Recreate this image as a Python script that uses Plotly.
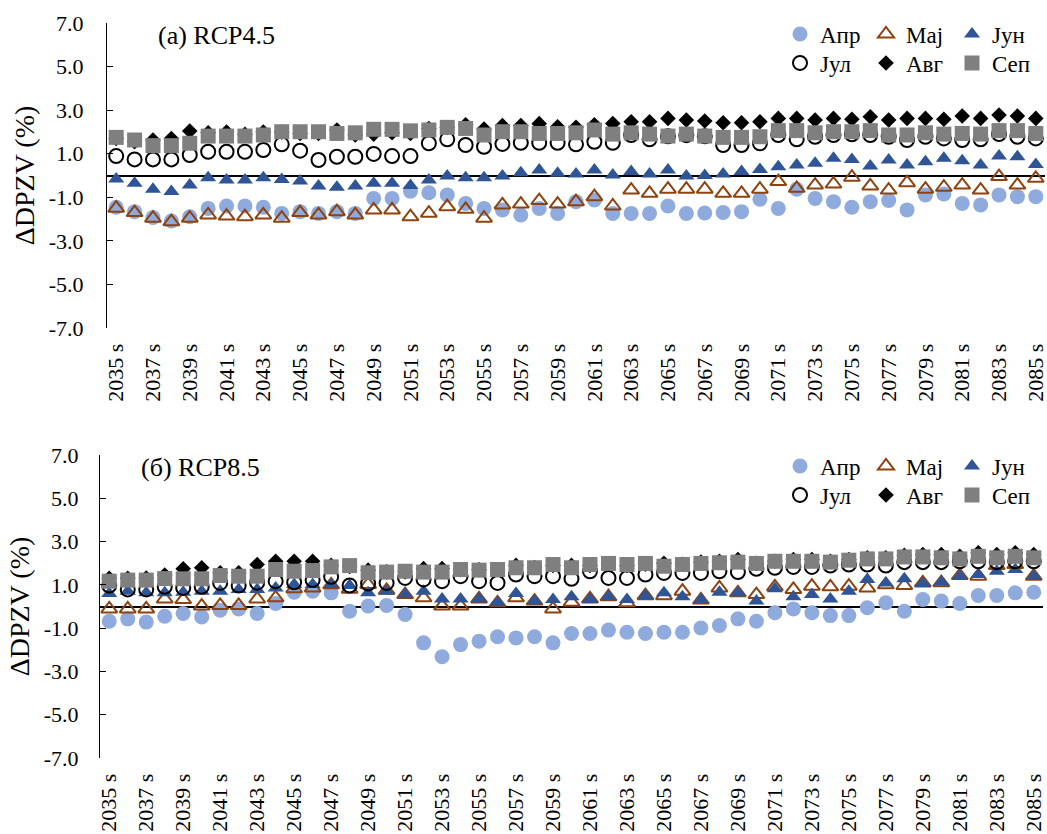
import plotly.graph_objects as go

# ---------------- data ----------------
categories = [f"{y} s" for y in range(2035, 2086)]
tick_labels = categories[::2]
series_names = ["Апр", "Мај", "Јун", "Јул", "Авг", "Сеп"]

# (a) RCP4.5
a_apr = [-1.46, -1.66, -1.93, -2.09, -1.89, -1.51, -1.40, -1.40, -1.46, -1.74, -1.66, -1.74, -1.66,
         -1.74, -1.05, -1.05, -0.72, -0.79, -0.89, -1.28, -1.51, -1.58, -1.81, -1.51, -1.74, -1.20,
         -1.12, -1.74, -1.74, -1.74, -1.40, -1.74, -1.72, -1.70, -1.66, -1.09, -1.51, -0.63, -1.05,
         -1.20, -1.46, -1.20, -1.15, -1.58, -0.89, -0.85, -1.28, -1.35, -0.89, -0.97, -0.97]
a_maj = [-1.50, -1.70, -1.96, -2.12, -1.96, -1.81, -1.86, -1.89, -1.81, -1.96, -1.70, -1.81, -1.66,
         -1.81, -1.58, -1.58, -1.89, -1.73, -1.43, -1.55, -1.96, -1.35, -1.31, -1.15, -1.31, -1.20,
         -0.97, -1.40, -0.67, -0.82, -0.63, -0.63, -0.63, -0.82, -0.82, -0.63, -0.28, -0.59, -0.44,
         -0.39, -0.08, -0.48, -0.67, -0.33, -0.63, -0.54, -0.44, -0.67, -0.05, -0.44, -0.13]
a_jun = [-0.16, -0.36, -0.63, -0.74, -0.44, -0.10, -0.21, -0.21, -0.10, -0.18, -0.25, -0.48, -0.54,
         -0.48, -0.36, -0.36, -0.46, -0.21, -0.02, -0.10, -0.10, -0.02, 0.13, 0.25, 0.10, 0.07,
         0.25, 0.02, 0.18, 0.07, 0.25, -0.02, 0.00, 0.07, 0.18, 0.28, 0.40, 0.48, 0.56, 0.79, 0.74,
         0.44, 0.71, 0.48, 0.63, 0.79, 0.68, 0.48, 0.89, 0.86, 0.51]
a_jul = [0.89, 0.74, 0.74, 0.74, 0.94, 1.09, 1.09, 1.09, 1.17, 1.43, 1.14, 0.71, 0.86, 0.86, 0.99,
         0.89, 0.89, 1.48, 1.66, 1.40, 1.32, 1.45, 1.50, 1.50, 1.50, 1.43, 1.55, 1.50, 1.86, 1.66,
         1.80, 1.85, 1.80, 1.40, 1.40, 1.48, 1.86, 1.66, 1.78, 1.86, 1.89, 1.86, 1.78, 1.63, 1.78,
         1.70, 1.63, 1.66, 1.90, 1.78, 1.70]
a_avg = [1.70, 1.55, 1.63, 1.70, 2.04, 1.96, 2.00, 1.89, 2.00, 2.00, 1.93, 1.93, 2.09, 1.86, 1.90,
         1.96, 1.93, 2.16, 2.20, 2.33, 2.13, 2.29, 2.29, 2.38, 2.24, 2.21, 2.33, 2.39, 2.47, 2.47,
         2.62, 2.55, 2.50, 2.42, 2.42, 2.47, 2.62, 2.62, 2.55, 2.62, 2.58, 2.70, 2.55, 2.62, 2.62,
         2.58, 2.73, 2.62, 2.78, 2.73, 2.62]
a_sep = [1.75, 1.63, 1.37, 1.37, 1.48, 1.81, 1.81, 1.81, 1.86, 2.01, 2.01, 2.01, 1.93, 1.96, 2.12,
         2.12, 2.05, 2.09, 2.21, 2.16, 1.86, 2.01, 2.01, 1.93, 1.93, 1.96, 2.09, 1.90, 1.96, 1.90,
         1.81, 1.90, 1.81, 1.75, 1.75, 1.78, 2.06, 2.06, 1.96, 2.01, 2.01, 2.06, 1.86, 1.86, 1.96,
         1.90, 1.93, 1.90, 2.06, 2.06, 1.93]

# (б) RCP8.5
b_apr = [-0.68, -0.57, -0.72, -0.45, -0.32, -0.48, -0.17, -0.11, -0.32, 0.14, 0.66, 0.71, 0.63,
         -0.22, 0.02, 0.05, -0.37, -1.68, -2.32, -1.76, -1.60, -1.40, -1.45, -1.40, -1.68, -1.25,
         -1.25, -1.09, -1.19, -1.25, -1.19, -1.19, -0.99, -0.88, -0.57, -0.68, -0.29, -0.11, -0.29,
         -0.42, -0.42, -0.06, 0.17, -0.22, 0.32, 0.25, 0.14, 0.51, 0.51, 0.63, 0.66]
b_maj = [-0.11, -0.11, -0.11, 0.35, 0.32, 0.02, 0.05, 0.05, 0.35, 0.40, 0.82, 0.86, 1.00, 0.80,
         1.02, 0.75, 0.55, 0.40, 0.02, 0.02, 0.35, 0.17, 0.40, 0.25, -0.11, 0.20, 0.35, 0.45, 0.17,
         0.50, 0.50, 0.71, 0.30, 0.86, 0.63, 0.55, 0.91, 0.79, 0.94, 0.91, 0.94, 0.86, 1.00, 0.97,
         1.09, 1.10, 1.43, 1.40, 1.89, 1.94, 1.40]
b_jun = [0.60, 0.71, 0.63, 0.63, 0.66, 0.71, 0.71, 0.79, 0.79, 0.86, 1.02, 1.02, 1.02, 0.97, 0.63,
         0.71, 0.55, 0.71, 0.35, 0.35, 0.35, 0.17, 0.60, 0.25, 0.32, 0.45, 0.32, 0.45, 0.32, 0.51,
         0.63, 0.45, 0.32, 0.66, 0.63, 0.25, 0.82, 0.45, 0.55, 0.35, 0.71, 1.25, 1.09, 1.28, 1.06,
         1.12, 1.40, 1.48, 1.63, 1.71, 1.40]
b_jul = [0.97, 0.79, 0.79, 0.91, 0.86, 0.91, 1.09, 0.97, 1.10, 1.17, 1.12, 1.22, 1.37, 0.97, 1.06,
         1.09, 1.32, 1.25, 1.17, 1.40, 1.17, 1.09, 1.48, 1.40, 1.40, 1.28, 1.63, 1.32, 1.32, 1.48,
         1.55, 1.55, 1.55, 1.63, 1.59, 1.74, 1.79, 1.83, 1.83, 1.89, 1.94, 1.94, 1.89, 2.05, 2.05,
         2.05, 2.09, 2.09, 2.05, 2.09, 2.09]
b_avg = [1.30, 1.30, 1.32, 1.45, 1.74, 1.79, 1.56, 1.56, 1.94, 2.09, 2.09, 2.09, 1.90, 1.85, 1.68,
         1.60, 1.60, 1.75, 1.75, 1.70, 1.70, 1.70, 1.90, 1.80, 1.90, 1.90, 1.90, 1.95, 1.90, 1.95,
         2.00, 1.95, 2.05, 2.09, 2.17, 2.00, 2.09, 2.17, 2.17, 2.09, 2.17, 2.25, 2.25, 2.36, 2.40,
         2.40, 2.32, 2.48, 2.40, 2.48, 2.40]
b_sep = [1.17, 1.22, 1.22, 1.29, 1.28, 1.28, 1.43, 1.40, 1.40, 1.71, 1.63, 1.66, 1.83, 1.89, 1.56,
         1.59, 1.63, 1.59, 1.59, 1.71, 1.68, 1.71, 1.79, 1.79, 1.94, 1.79, 1.94, 1.99, 1.94, 1.99,
         1.86, 1.94, 1.99, 2.02, 2.05, 1.99, 2.09, 2.09, 2.09, 2.05, 2.14, 2.20, 2.20, 2.29, 2.29,
         2.25, 2.20, 2.32, 2.25, 2.32, 2.25]

y_ticks = [7.0, 5.0, 3.0, 1.0, -1.0, -3.0, -5.0, -7.0]

# ---------------- styles ----------------
FONT = "Liberation Serif"
styles = [
    dict(symbol="circle", size=15, color="#8FAADC"),
    dict(symbol="triangle-up-open", size=14, color="#8E430F", line=dict(width=2, color="#8E430F")),
    dict(symbol="triangle-up", size=14, color="#2F5597"),
    dict(symbol="circle-open", size=14, color="black", line=dict(width=2, color="black")),
    dict(symbol="diamond", size=12, color="black"),
    dict(symbol="square", size=15, color="#7F7F7F"),
]

fig = go.Figure()
panels = [
    ("x", "y", [a_apr, a_maj, a_jun, a_jul, a_avg, a_sep], ["legend", "legend2"]),
    ("x2", "y2", [b_apr, b_maj, b_jun, b_jul, b_avg, b_sep], ["legend3", "legend4"]),
]
for xa, ya, data, legs in panels:
    for k, (name, vals, st) in enumerate(zip(series_names, data, styles)):
        fig.add_trace(go.Scatter(
            x=categories, y=vals, name=name, mode="markers",
            marker=st, xaxis=xa, yaxis=ya,
            legend=legs[0] if k < 3 else legs[1],
        ))

W, H = 1047, 834
ML, MR, MT, MB = 100, 2, 23, 76
pw, ph = W - ML - MR, H - MT - MB

def px_x(p):
    return (p - ML) / pw

def px_y(p):
    return (H - MB - p) / ph

xcommon = dict(type="category", range=[-0.5, 50.5], tickmode="array", tickvals=tick_labels,
               ticktext=tick_labels, tickangle=-90, showline=False,
               ticks="outside", ticklen=6, tickcolor="rgba(0,0,0,0)",
               showgrid=False, zeroline=False, automargin=False,
               tickfont=dict(family=FONT, size=22, color="black"))
ycommon = dict(range=[-7, 7], tickmode="array", tickvals=y_ticks,
               ticktext=[f"{v:.1f}" for v in y_ticks], showline=True, linecolor="black",
               linewidth=1, ticks="inside", ticklen=6, tickcolor="black", tickwidth=1,
               showgrid=False, zeroline=True, zerolinecolor="black", zerolinewidth=2,
               automargin=False,
               tickfont=dict(family=FONT, size=22, color="black"),
               title=dict(text="ΔDPZV (%)", font=dict(family=FONT, size=28, color="black"), standoff=5))

fig.update_layout(
    width=W, height=H, margin=dict(l=ML, r=MR, t=MT, b=MB, autoexpand=False),
    paper_bgcolor="white", plot_bgcolor="white", showlegend=True,
    xaxis=dict(domain=[px_x(107), 1.0], anchor="y", **xcommon),
    yaxis=dict(domain=[px_y(328), 1.0], anchor="x", ticklabelstandoff=18, **ycommon),
    xaxis2=dict(domain=[0.0, px_x(1043)], anchor="y2", **xcommon),
    yaxis2=dict(domain=[0.0, px_y(455)], anchor="x2", ticklabelstandoff=16, **ycommon),
)

leg_common = dict(orientation="h", xanchor="left", yanchor="middle", bgcolor="rgba(0,0,0,0)",
                  font=dict(family=FONT, size=23, color="black"), entrywidth=41,
                  entrywidthmode="pixels", itemclick=False, tracegroupgap=0)
fig.update_layout(
    legend=dict(x=px_x(780), y=px_y(34), **leg_common),
    legend2=dict(x=px_x(780), y=px_y(63), **leg_common),
    legend3=dict(x=px_x(780), y=px_y(466), **leg_common),
    legend4=dict(x=px_x(780), y=px_y(495), **leg_common),
)

fig.add_annotation(text="(a) RCP4.5", xref="paper", yref="paper", x=px_x(156), y=px_y(36),
                   xanchor="left", yanchor="middle", showarrow=False,
                   font=dict(family=FONT, size=26, color="black"))
fig.add_annotation(text="(б) RCP8.5", xref="paper", yref="paper", x=px_x(139), y=px_y(467),
                   xanchor="left", yanchor="middle", showarrow=False,
                   font=dict(family=FONT, size=26, color="black"))

fig.write_html(
    "out.html",
    config={"displayModeBar": False},
    post_script="document.body.style.margin='0px';document.body.style.padding='0px';"
                "document.body.style.overflow='hidden';",
)
